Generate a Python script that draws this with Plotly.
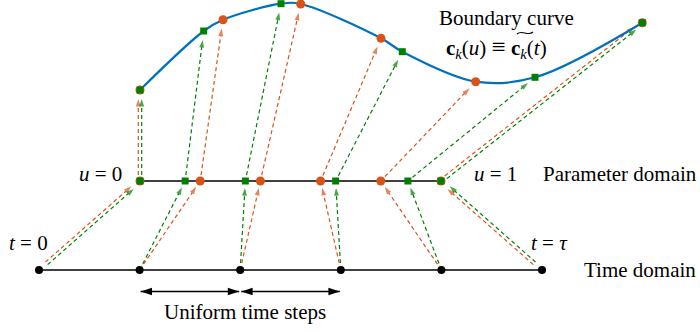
import numpy as np
import plotly.graph_objects as go

# ---- data -----------------------------------------------------------------
# uniform time steps on [0, tau], normalised to [0, 1]
t_steps = [0.0, 0.2, 0.4, 0.6, 0.8, 1.0]
# curve parameter reached by each time step, for the two samplings
u_orange = [0.0, 0.2, 0.4, 0.6, 0.8, 1.0]
u_green = [0.0, 0.15, 0.35, 0.65, 0.89, 1.0]

# boundary curve c_k(u), sampled at every parameter value used above
curve_u = [0.0, 0.15, 0.2, 0.35, 0.4, 0.6, 0.65, 0.8, 0.89, 1.0]
curve_x = [140, 203.7, 223, 281, 300.7, 381, 402.3, 475.7, 535, 642.3]
curve_y = [90, 31, 19.7, 3.7, 4, 38.3, 51.7, 81.7, 77.3, 22.7]

# ---- layout of the two domains (diagram units, y grows downward) ----------
TIME_Y, TIME_X0, TIME_X1 = 270, 39, 542
PARAM_Y, PARAM_X0, PARAM_X1 = 181, 140, 441
STEPS_Y = 291.5

ORANGE = "#D95319"
GREEN = "#008000"
BLUE = "#0072BD"
FONT = "Liberation Serif"


def time_x(t):
    return TIME_X0 + t * (TIME_X1 - TIME_X0)


def param_x(u):
    return PARAM_X0 + u * (PARAM_X1 - PARAM_X0)


def curve_at(u):
    i = curve_u.index(u)
    return curve_x[i], curve_y[i]


fig = go.Figure()


def dashed_arrow(p0, p1, color, cut0, cut1, side=0.0):
    p0 = np.asarray(p0, float)
    p1 = np.asarray(p1, float)
    d = p1 - p0
    d /= np.hypot(*d)
    normal = np.array([d[1], -d[0]])
    a = p0 + d * cut0 + normal * side
    b = p1 - d * cut1 + normal * side
    fig.add_trace(go.Scatter(
        x=[a[0], b[0]], y=[a[1], b[1]], mode="lines+markers",
        line=dict(color=color, width=1.2, dash="4px,3px"),
        marker=dict(symbol=["circle", "arrow"], size=[0, 8], color=color,
                    angleref="previous", line=dict(width=0)),
        hoverinfo="skip", showlegend=False,
    ))


# arrows: time domain -> parameter domain -> boundary curve
for samples, color, sgn in ((u_orange, ORANGE, 1), (u_green, GREEN, -1)):
    for t, u in zip(t_steps, samples):
        shared = u in (0.0, 1.0)
        side = 1.7 * sgn if shared else 0.0
        dashed_arrow((time_x(t), TIME_Y), (param_x(u), PARAM_Y), color,
                     7 if not shared else 10, 7 if not shared else 10, side)
        dashed_arrow((param_x(u), PARAM_Y), curve_at(u), color, 6, 9, side)

# domain lines
fig.add_trace(go.Scatter(x=[TIME_X0, TIME_X1], y=[TIME_Y, TIME_Y], mode="lines",
                         line=dict(color="black", width=1.3),
                         hoverinfo="skip", showlegend=False))
fig.add_trace(go.Scatter(x=[PARAM_X0, PARAM_X1], y=[PARAM_Y, PARAM_Y], mode="lines",
                         line=dict(color="black", width=1.3),
                         hoverinfo="skip", showlegend=False))

# boundary curve
fig.add_trace(go.Scatter(x=curve_x, y=curve_y, mode="lines",
                         line=dict(color=BLUE, width=2.2, shape="spline", smoothing=1.0),
                         hoverinfo="skip", showlegend=False))

# sample markers on the parameter line and on the curve
for samples, color, symbol, size in ((u_orange, ORANGE, "circle", 9),
                                     (u_green, GREEN, "square", 7)):
    xs = [param_x(u) for u in samples] + [curve_at(u)[0] for u in samples]
    ys = [PARAM_Y] * len(samples) + [curve_at(u)[1] for u in samples]
    fig.add_trace(go.Scatter(x=xs, y=ys, mode="markers",
                             marker=dict(symbol=symbol, size=size, color=color,
                                         line=dict(width=0)),
                             hoverinfo="skip", showlegend=False))

# time step nodes
fig.add_trace(go.Scatter(x=[time_x(t) for t in t_steps], y=[TIME_Y] * len(t_steps),
                         mode="markers", marker=dict(color="black", size=8),
                         hoverinfo="skip", showlegend=False))

# "Uniform time steps": two double-headed arrows spanning single steps
for t0, t1 in ((t_steps[1], t_steps[2]), (t_steps[2], t_steps[3])):
    fig.add_trace(go.Scatter(
        x=[time_x(t0) + 1, time_x(t1) - 1], y=[STEPS_Y, STEPS_Y],
        mode="lines+markers",
        line=dict(color="black", width=1.3),
        marker=dict(symbol="arrow", size=12, color="black", angle=[-90, 90],
                    angleref="up", line=dict(width=0)),
        hoverinfo="skip", showlegend=False,
    ))

labels = [
    ("Boundary curve", 506, 18),
    ("<b>c</b><sub><i>k</i></sub>(<i>u</i>) "
     "<span style='font-size:25px'>\u2261</span> "
     "<b>c</b><sub><i>k</i></sub>(<i>t</i>)", 496, 47),
    ("<i>u</i> = 0", 100, 174),
    ("<i>u</i> = 1", 495, 174),
    ("Parameter domain", 619.5, 174),
    ("<i>t</i> = 0", 28, 243),
    ("<i>t</i> = <i>\u03c4</i>", 549, 243),
    ("Time domain", 640, 270),
    ("Uniform time steps", 245, 312),
]
for text, x, y in labels:
    fig.add_annotation(x=x, y=y, xref="x", yref="y", text=text, showarrow=False,
                       xanchor="center", yanchor="middle",
                       font=dict(family=FONT, size=21, color="black"))

# wide tilde over the second c_k
fig.add_shape(type="path", xref="x", yref="y",
              path="M 517 34 C 522 29 528 37 533 32",
              line=dict(color="black", width=1.1))

fig.update_xaxes(range=[0, 700], visible=False, fixedrange=True)
fig.update_yaxes(range=[332, 0], visible=False, fixedrange=True)
fig.update_layout(width=700, height=332, margin=dict(l=0, r=0, t=0, b=0),
                  plot_bgcolor="white", paper_bgcolor="white")

fig.write_html("out.html")
